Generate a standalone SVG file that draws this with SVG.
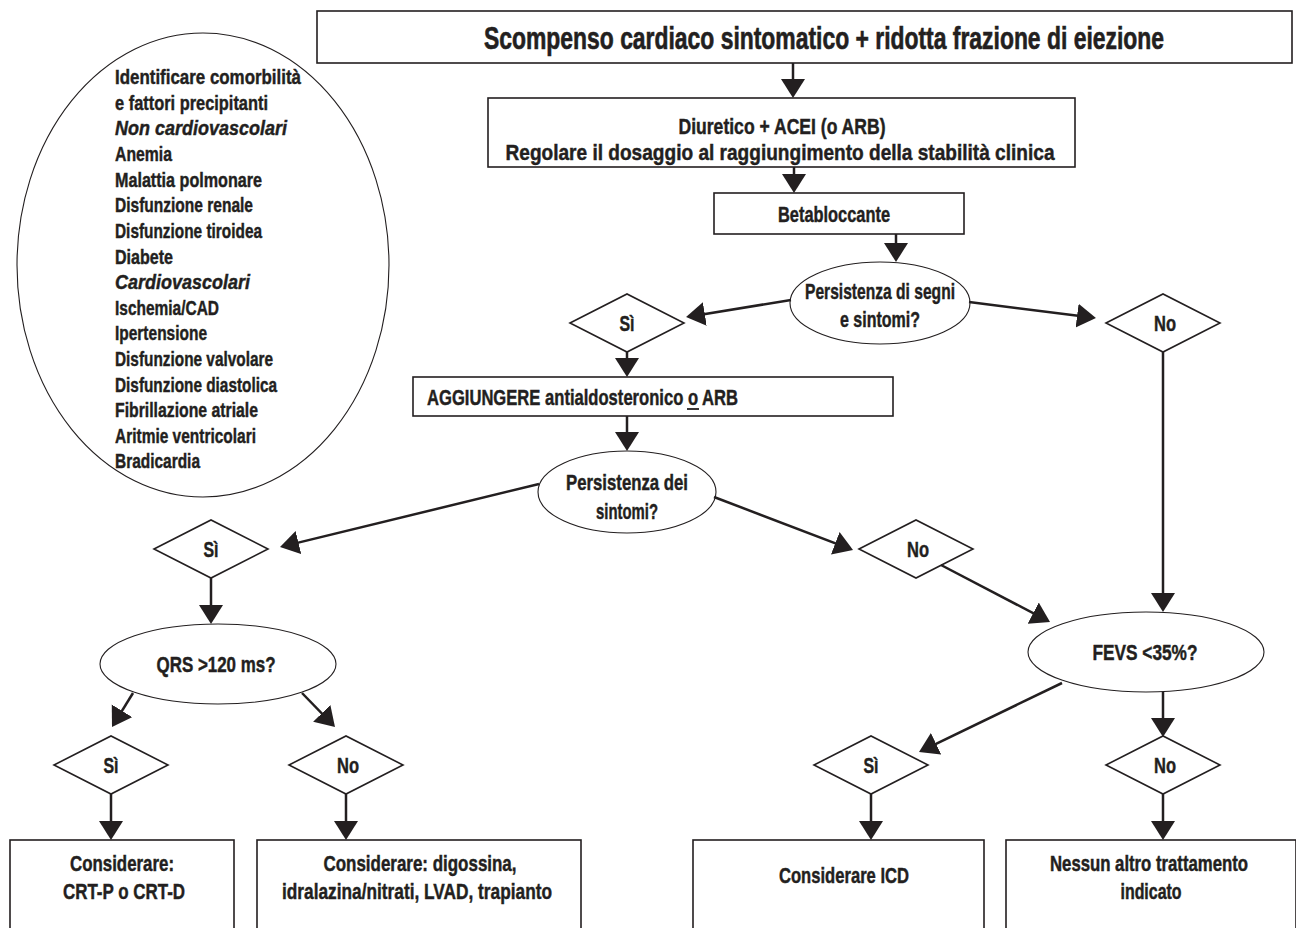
<svg xmlns="http://www.w3.org/2000/svg" width="1296" height="928" viewBox="0 0 1296 928">
<style>
text{font-family:"Liberation Sans",Arial,sans-serif;font-weight:bold;fill:#231f20;stroke:#231f20;stroke-width:0.45}
.t{font-size:22px}
.c{text-anchor:middle}
.title{font-size:25px;stroke-width:0.5}
.sm{font-size:17px;stroke-width:0.38}
.lst{font-size:21px}
.it{font-style:italic}
.box{fill:#fff;stroke:#231f20;stroke-width:1.6}
.ell{fill:#fff;stroke:#231f20;stroke-width:1.1}
.dia{fill:#fff;stroke:#231f20;stroke-width:1.6}
.ul{stroke:#231f20;stroke-width:1.8}
.con line{stroke:#231f20;stroke-width:2.5;marker-end:url(#ah)}
</style>
<defs>
<marker id="ah" markerUnits="userSpaceOnUse" markerWidth="20" markerHeight="26" refX="15" refY="12" orient="auto"><path d="M0,0 L19,12 L0,24 Z" fill="#231f20"/></marker>
</defs>
<rect width="1296" height="928" fill="#fff"/>

<g id="comorbidities">
<ellipse class="ell" cx="203" cy="265" rx="186" ry="232"/>
<text class="lst" x="115" y="84" textLength="186" lengthAdjust="spacingAndGlyphs">Identificare comorbilità</text>
<text class="lst" x="115" y="110" textLength="153" lengthAdjust="spacingAndGlyphs">e fattori precipitanti</text>
<text class="lst it" x="115" y="135" textLength="172" lengthAdjust="spacingAndGlyphs">Non cardiovascolari</text>
<text class="lst" x="115" y="161" textLength="57" lengthAdjust="spacingAndGlyphs">Anemia</text>
<text class="lst" x="115" y="187" textLength="147" lengthAdjust="spacingAndGlyphs">Malattia polmonare</text>
<text class="lst" x="115" y="212" textLength="138" lengthAdjust="spacingAndGlyphs">Disfunzione renale</text>
<text class="lst" x="115" y="238" textLength="147" lengthAdjust="spacingAndGlyphs">Disfunzione tiroidea</text>
<text class="lst" x="115" y="264" textLength="58" lengthAdjust="spacingAndGlyphs">Diabete</text>
<text class="lst it" x="115" y="289" textLength="135" lengthAdjust="spacingAndGlyphs">Cardiovascolari</text>
<text class="lst" x="115" y="315" textLength="104" lengthAdjust="spacingAndGlyphs">Ischemia/CAD</text>
<text class="lst" x="115" y="340" textLength="92" lengthAdjust="spacingAndGlyphs">Ipertensione</text>
<text class="lst" x="115" y="366" textLength="158" lengthAdjust="spacingAndGlyphs">Disfunzione valvolare</text>
<text class="lst" x="115" y="392" textLength="162" lengthAdjust="spacingAndGlyphs">Disfunzione diastolica</text>
<text class="lst" x="115" y="417" textLength="143" lengthAdjust="spacingAndGlyphs">Fibrillazione atriale</text>
<text class="lst" x="115" y="443" textLength="141" lengthAdjust="spacingAndGlyphs">Aritmie ventricolari</text>
<text class="lst" x="115" y="468" textLength="85" lengthAdjust="spacingAndGlyphs">Bradicardia</text>
</g>

<g id="title">
<rect class="box" x="317" y="11" width="975" height="52"/>
<text class="title c" transform="translate(824,49) scale(1,1.28)" x="0" y="0" textLength="680" lengthAdjust="spacingAndGlyphs">Scompenso cardiaco sintomatico + ridotta frazione di eiezione</text>
</g>

<g id="diuretico">
<rect class="box" x="488" y="98" width="587" height="69"/>
<text class="t c" x="782" y="134" textLength="207" lengthAdjust="spacingAndGlyphs">Diuretico + ACEI (o ARB)</text>
<text class="t c" x="780" y="160" textLength="549" lengthAdjust="spacingAndGlyphs">Regolare il dosaggio al raggiungimento della stabilità clinica</text>
</g>

<g id="betabloccante">
<rect class="box" x="714" y="193" width="250" height="41"/>
<text class="t c" x="834" y="222" textLength="112" lengthAdjust="spacingAndGlyphs">Betabloccante</text>
</g>

<g id="q1">
<ellipse class="ell" cx="880" cy="303" rx="90" ry="41"/>
<text class="t c" x="880" y="299" textLength="150" lengthAdjust="spacingAndGlyphs">Persistenza di segni</text>
<text class="t c" x="880" y="327" textLength="80" lengthAdjust="spacingAndGlyphs">e sintomi?</text>
</g>

<g id="q1-si">
<polygon class="dia" points="570,323 627,294 684,323 627,352"/>
<text class="t c" x="627" y="331" textLength="15" lengthAdjust="spacingAndGlyphs">Sì</text>
</g>

<g id="q1-no">
<polygon class="dia" points="1106,323 1163,294 1220,323 1163,352"/>
<text class="t c" x="1165" y="331" textLength="22" lengthAdjust="spacingAndGlyphs">No</text>
</g>

<g id="aggiungere">
<rect class="box" x="413" y="377" width="480" height="39"/>
<text class="t" x="427" y="405" textLength="311" lengthAdjust="spacingAndGlyphs">AGGIUNGERE antialdosteronico o ARB</text>
<line class="ul" x1="687" y1="409" x2="699" y2="409"/>
</g>

<g id="q2">
<ellipse class="ell" cx="627" cy="492" rx="89" ry="41"/>
<text class="t c" x="627" y="490" textLength="122" lengthAdjust="spacingAndGlyphs">Persistenza dei</text>
<text class="t c" x="627" y="519" textLength="62" lengthAdjust="spacingAndGlyphs">sintomi?</text>
</g>

<g id="q2-si">
<polygon class="dia" points="154,549 211,520 268,549 211,578"/>
<text class="t c" x="211" y="557" textLength="15" lengthAdjust="spacingAndGlyphs">Sì</text>
</g>

<g id="q2-no">
<polygon class="dia" points="859,549 916,520 973,549 916,578"/>
<text class="t c" x="918" y="557" textLength="22" lengthAdjust="spacingAndGlyphs">No</text>
</g>

<g id="qrs">
<ellipse class="ell" cx="218" cy="664" rx="118" ry="40"/>
<text class="t c" x="216" y="672" textLength="119" lengthAdjust="spacingAndGlyphs">QRS &gt;120 ms?</text>
</g>

<g id="fevs">
<ellipse class="ell" cx="1146" cy="652" rx="118" ry="40"/>
<text class="t c" x="1145" y="660" textLength="105" lengthAdjust="spacingAndGlyphs">FEVS &lt;35%?</text>
</g>

<g id="qrs-si">
<polygon class="dia" points="54,765 111,736 168,765 111,794"/>
<text class="t c" x="111" y="773" textLength="15" lengthAdjust="spacingAndGlyphs">Sì</text>
</g>

<g id="qrs-no">
<polygon class="dia" points="289,765 346,736 403,765 346,794"/>
<text class="t c" x="348" y="773" textLength="22" lengthAdjust="spacingAndGlyphs">No</text>
</g>

<g id="fevs-si">
<polygon class="dia" points="814,765 871,736 928,765 871,794"/>
<text class="t c" x="871" y="773" textLength="15" lengthAdjust="spacingAndGlyphs">Sì</text>
</g>

<g id="fevs-no">
<polygon class="dia" points="1106,765 1163,736 1220,765 1163,794"/>
<text class="t c" x="1165" y="773" textLength="22" lengthAdjust="spacingAndGlyphs">No</text>
</g>

<g id="crt">
<rect class="box" x="10" y="840" width="224" height="100"/>
<text class="t c" x="122" y="871" textLength="104" lengthAdjust="spacingAndGlyphs">Considerare:</text>
<text class="t c" x="124" y="899" textLength="122" lengthAdjust="spacingAndGlyphs">CRT-P o CRT-D</text>
</g>

<g id="digossina">
<rect class="box" x="257" y="840" width="324" height="100"/>
<text class="t c" x="420" y="871" textLength="193" lengthAdjust="spacingAndGlyphs">Considerare: digossina,</text>
<text class="t c" x="417" y="899" textLength="270" lengthAdjust="spacingAndGlyphs">idralazina/nitrati, LVAD, trapianto</text>
</g>

<g id="icd">
<rect class="box" x="693" y="840" width="291" height="100"/>
<text class="t c" x="844" y="883" textLength="130" lengthAdjust="spacingAndGlyphs">Considerare ICD</text>
</g>

<g id="nessun">
<rect class="box" x="1006" y="840" width="290" height="100"/>
<text class="sm c" transform="translate(1149,871) scale(1,1.29)" x="0" y="0" textLength="198" lengthAdjust="spacingAndGlyphs">Nessun altro trattamento</text>
<text class="sm c" transform="translate(1151,899) scale(1,1.29)" x="0" y="0" textLength="61" lengthAdjust="spacingAndGlyphs">indicato</text>
</g>

<g id="connectors" class="con">
<line x1="793" y1="63" x2="793" y2="94"/>
<line x1="794" y1="167" x2="794" y2="189"/>
<line x1="896" y1="234" x2="896" y2="258"/>
<line x1="791" y1="300" x2="690" y2="316.4"/>
<line x1="969" y1="302" x2="1092" y2="317.5"/>
<line x1="1163" y1="352" x2="1163" y2="608"/>
<line x1="627" y1="352" x2="627" y2="373"/>
<line x1="627" y1="416" x2="627" y2="447"/>
<line x1="539" y1="484" x2="283.9" y2="546.1"/>
<line x1="714" y1="497" x2="849.3" y2="548.6"/>
<line x1="941" y1="565" x2="1046.5" y2="620.1"/>
<line x1="211" y1="578" x2="211" y2="620"/>
<line x1="133" y1="693" x2="114.1" y2="723.6"/>
<line x1="302" y1="693" x2="332.2" y2="724.1"/>
<line x1="111" y1="794" x2="111" y2="836"/>
<line x1="346" y1="794" x2="346" y2="836"/>
<line x1="1062" y1="683" x2="922.6" y2="750.3"/>
<line x1="1163" y1="692" x2="1163" y2="733"/>
<line x1="871" y1="794" x2="871" y2="836"/>
<line x1="1163" y1="794" x2="1163" y2="836"/>
</g>
</svg>
